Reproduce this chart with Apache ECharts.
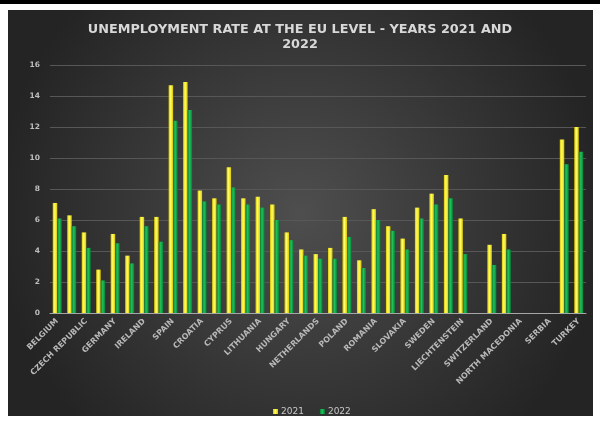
<!DOCTYPE html>
<html>
<head>
<meta charset="utf-8">
<script src="https://cdn.jsdelivr.net/npm/echarts@6/dist/echarts.min.js"></script>
<style>
  html, body { margin: 0; padding: 0; background: #ffffff; }
  #chart { width: 600px; height: 421px; }
</style>
</head>
<body>
<div id="chart"></div>
<script>
// Country categories along the x axis (every other one is labelled)
const countries = [
  'BELGIUM', 'BULGARIA', 'CZECH REPUBLIC', 'DENMARK', 'GERMANY', 'ESTONIA',
  'IRELAND', 'GREECE', 'SPAIN', 'FRANCE', 'CROATIA', 'ITALY', 'CYPRUS',
  'LATVIA', 'LITHUANIA', 'LUXEMBOURG', 'HUNGARY', 'MALTA', 'NETHERLANDS',
  'AUSTRIA', 'POLAND', 'PORTUGAL', 'ROMANIA', 'SLOVENIA', 'SLOVAKIA',
  'FINLAND', 'SWEDEN', 'ICELAND', 'LIECHTENSTEIN', 'NORWAY', 'SWITZERLAND',
  'MONTENEGRO', 'NORTH MACEDONIA', 'ALBANIA', 'SERBIA', 'BOSNIA AND HERZEGOVINA',
  'TURKEY'
];

// Unemployment rate (%) per year; null where no value is reported
const rate2021 = [
  7.1, 6.3, 5.2, 2.8, 5.1, 3.7, 6.2, 6.2, 14.7, 14.9, 7.9, 7.4, 9.4, 7.4,
  7.5, 7.0, 5.2, 4.1, 3.8, 4.2, 6.2, 3.4, 6.7, 5.6, 4.8, 6.8, 7.7, 8.9,
  6.1, null, 4.4, 5.1, null, null, null, 11.2, 12.0
];
const rate2022 = [
  6.1, 5.6, 4.2, 2.1, 4.5, 3.2, 5.6, 4.6, 12.4, 13.1, 7.2, 7.0, 8.1, 7.0,
  6.8, 6.0, 4.7, 3.7, 3.5, 3.5, 4.9, 2.9, 6.0, 5.3, 4.1, 6.1, 7.0, 7.4,
  3.8, null, 3.1, 4.1, null, null, null, 9.6, 10.4
];

const yearNames = ['2021', '2022'];
const yTicks = { min: 0, max: 16, interval: 2 };

const titleText = 'UNEMPLOYMENT RATE AT THE EU LEVEL - YEARS 2021 AND\n2022';

function barGradient(edge, mid) {
  return {
    type: 'linear', x: 0, y: 0, x2: 1, y2: 0,
    colorStops: [
      { offset: 0, color: edge },
      { offset: 0.45, color: mid },
      { offset: 1, color: edge }
    ]
  };
}

const chart = echarts.init(document.getElementById('chart'), null, { renderer: 'canvas' });

chart.setOption({
  backgroundColor: '#ffffff',
  animation: false,
  graphic: [
    { type: 'rect', z: -10, shape: { x: 0, y: 0, width: 600, height: 4 }, style: { fill: '#000000' } },
    {
      type: 'rect', z: -10,
      shape: { x: 8, y: 10, width: 585, height: 406 },
      style: {
        fill: {
          type: 'radial', x: 0.5, y: 0.5, r: 0.75,
          colorStops: [
            { offset: 0, color: '#4e4e4e' },
            { offset: 1, color: '#242424' }
          ]
        }
      }
    }
  ],
  title: {
    text: titleText,
    left: 'center',
    top: 17,
    textStyle: {
      color: '#d8d8d8',
      fontFamily: 'DejaVu Sans',
      fontWeight: 'bold',
      fontSize: 12.8,
      lineHeight: 15
    }
  },
  legend: {
    data: yearNames,
    left: 268,
    top: 402,
    icon: 'rect',
    itemWidth: 5,
    itemHeight: 5,
    itemGap: 16,
    textStyle: {
      color: '#c8c8c8', fontSize: 9, fontFamily: 'DejaVu Sans',
      padding: [0, 0, 0, -2]
    }
  },
  grid: { left: 50, right: 14, top: 65, bottom: 108, containLabel: false },
  xAxis: {
    type: 'category',
    data: countries,
    axisLine: { lineStyle: { color: '#a6a6a6', width: 1 } },
    axisTick: { show: false },
    axisLabel: {
      interval: 1,
      rotate: 45,
      margin: 7,
      color: '#b8b8b8',
      fontSize: 8,
      fontWeight: 'bold',
      fontFamily: 'DejaVu Sans'
    }
  },
  yAxis: {
    type: 'value',
    min: yTicks.min,
    max: yTicks.max,
    interval: yTicks.interval,
    axisLine: { show: false },
    axisTick: { show: false },
    axisLabel: {
      color: '#bdbdbd',
      fontSize: 7.5,
      fontWeight: 'bold',
      fontFamily: 'DejaVu Sans',
      margin: 10
    },
    splitLine: { lineStyle: { color: '#575757', width: 1 } }
  },
  series: [
    {
      name: yearNames[0],
      type: 'bar',
      data: rate2021,
      barWidth: 4.5,
      barGap: '0%',
      itemStyle: { color: barGradient('#d9c400', '#ffff66') }
    },
    {
      name: yearNames[1],
      type: 'bar',
      data: rate2022,
      barWidth: 4.5,
      itemStyle: { color: barGradient('#0b7d36', '#1fc25a') }
    }
  ]
});
</script>
</body>
</html>
